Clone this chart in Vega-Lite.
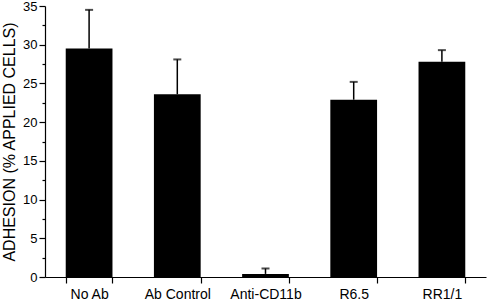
{
  "$schema": "https://vega.github.io/schema/vega-lite/v6.json",
  "autosize": {"type": "fit", "contains": "padding"},
  "width": 487,
  "height": 302,
  "padding": {"top": 0, "left": 1, "right": 1, "bottom": 1},
  "background": "white",
  "config": {
    "view": {"stroke": null},
    "font": "Liberation Sans",
    "axis": {"domainColor": "black", "tickColor": "black", "labelColor": "black", "titleColor": "black", "grid": false}
  },
  "data": {
    "values": [
      {"group": "No Ab", "value": 29.5, "upper": 34.5},
      {"group": "Ab Control", "value": 23.6, "upper": 28.1},
      {"group": "Anti-CD11b", "value": 0.4, "upper": 1.1},
      {"group": "R6.5", "value": 22.9, "upper": 25.2},
      {"group": "RR1/1", "value": 27.8, "upper": 29.3}
    ]
  },
  "encoding": {
    "x": {
      "field": "group", "type": "nominal", "sort": null,
      "scale": {"paddingInner": 0.47, "paddingOuter": 0.235},
      "axis": {"title": null, "labelAngle": 0, "labelFontSize": 14, "labelPadding": 4, "tickBand": "extent", "tickSize": 6, "domainWidth": 1.2, "tickWidth": 1.2}
    },
    "y": {
      "field": "value", "type": "quantitative",
      "scale": {"domain": [0, 35], "nice": false},
      "axis": {
        "title": "ADHESION (% APPLIED CELLS)",
        "titleFontSize": 16, "titleFontWeight": "normal", "titlePadding": 5,
        "values": [0, 2.5, 5, 7.5, 10, 12.5, 15, 17.5, 20, 22.5, 25, 27.5, 30, 32.5, 35],
        "labelExpr": "datum.value % 5 === 0 ? datum.label : ''",
        "labelOverlap": false,
        "tickSize": {"condition": {"test": "datum.value % 5 === 0", "value": 6}, "value": 3},
        "labelFontSize": 13, "labelPadding": 2, "domainWidth": 1.2, "tickWidth": 1.2
      }
    }
  },
  "layer": [
    {
      "mark": {"type": "rule", "color": "black", "strokeWidth": 1.5},
      "encoding": {
        "y2": {"field": "upper"}
      }
    },
    {
      "mark": {"type": "bar", "color": "black"}
    },
    {
      "mark": {"type": "tick", "color": "black", "size": 8, "thickness": 2},
      "encoding": {
        "y": {
          "field": "upper", "type": "quantitative",
          "axis": {
            "title": "ADHESION (% APPLIED CELLS)",
            "titleFontSize": 16, "titleFontWeight": "normal", "titlePadding": 5,
            "values": [0, 2.5, 5, 7.5, 10, 12.5, 15, 17.5, 20, 22.5, 25, 27.5, 30, 32.5, 35],
            "labelExpr": "datum.value % 5 === 0 ? datum.label : ''",
            "labelOverlap": false,
            "tickSize": {"condition": {"test": "datum.value % 5 === 0", "value": 6}, "value": 3},
            "labelFontSize": 13, "labelPadding": 2, "domainWidth": 1.2, "tickWidth": 1.2
          }
        }
      }
    }
  ]
}
